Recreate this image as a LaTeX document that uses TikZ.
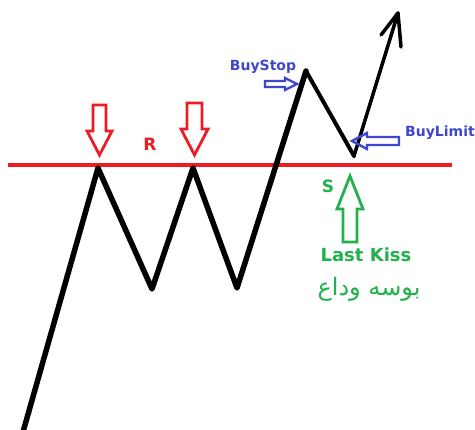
\documentclass[tikz,border=0pt]{standalone}
\usepackage{fontspec}
\setmainfont{DejaVu Sans}
\newfontfamily\arabicfont[Script=Arabic]{DejaVu Sans}
\TeXXeTstate=1
\definecolor{pred}{HTML}{ED1C24}
\definecolor{pgreen}{HTML}{22B14C}
\definecolor{pblue}{HTML}{3F48CC}
\begin{document}
\begin{tikzpicture}[x=1pt,y=-1pt,line join=round,
  price/.style={draw=black,line cap=round},
  hollowred/.style={draw=pred,line width=2.8pt,line join=miter},
  hollowgreen/.style={draw=pgreen,line width=2.8pt,line join=miter},
  hollowblue/.style={draw=pblue,line width=2.4pt,line join=miter},
  lbl/.style={font=\bfseries,inner sep=0pt}]
\useasboundingbox[fill=white] (0,0) rectangle (475,430);
% resistance line
\coordinate (rl) at (8,165);
\coordinate (rr) at (452,165);
\draw[pred,line width=3.5pt] (rl) -- (rr);
% price path
\coordinate (p0) at (23,432);
\coordinate (p1) at (98,168);
\coordinate (p2) at (152,289);
\coordinate (p3) at (193,168);
\coordinate (p4) at (237,288);
\coordinate (p5) at (306,71);
\coordinate (p6) at (354,156);
\coordinate (p7) at (398,13);
\coordinate (b1) at (381,35);
\coordinate (b2) at (401,47);
\draw[price,line width=5.5pt] (p0) -- (p1) -- (p2) -- (p3) -- (p4) -- (p5);
\draw[price,line width=4pt] (p5) -- (p6);
\draw[price,line width=3.5pt] (p6) -- (p7);
\draw[price,line width=3.5pt] (b1) -- (p7) -- (b2);
% red hollow arrows
\draw[hollowred] (93,105) -- (106,105) -- (106,131) -- (112,131) -- (99.5,155) -- (87,131) -- (93,131) -- cycle;
\draw[hollowred] (187,103) -- (202,103) -- (202,129) -- (208,129) -- (194.5,155) -- (181,129) -- (187,129) -- cycle;
\node[lbl,text=pred,font=\bfseries\fontsize{17}{19}\selectfont] (R) at (150,144) {R};
% green hollow arrow
\draw[hollowgreen] (343,242) -- (357,242) -- (357,209) -- (363,209) -- (350,176) -- (337,209) -- (343,209) -- cycle;
\node[lbl,text=pgreen,font=\bfseries\fontsize{17}{19}\selectfont] (S) at (328,186) {S};
\node[lbl,text=pgreen,font=\bfseries\fontsize{18}{20}\selectfont] (lk) at (366,255) {Last Kiss};
\node[lbl,text=pgreen,font=\arabicfont\fontsize{24}{26}\selectfont] (ar) at (369,289) {\beginR بوسه وداع\endR};
% blue arrows and labels
\draw[hollowblue] (265,81) -- (285,81) -- (285,78) -- (297,84) -- (285,90) -- (285,87) -- (265,87) -- cycle;
\node[lbl,text=pblue,font=\bfseries\fontsize{14}{16}\selectfont] (bs) at (263,67) {BuyStop};
\draw[hollowblue] (399,137) -- (367,137) -- (367,133) -- (352,141) -- (367,149) -- (367,145) -- (399,145) -- cycle;
\node[lbl,text=pblue,font=\bfseries\fontsize{14}{16}\selectfont] (bl) at (440,133) {BuyLimit};
\end{tikzpicture}
\end{document}
